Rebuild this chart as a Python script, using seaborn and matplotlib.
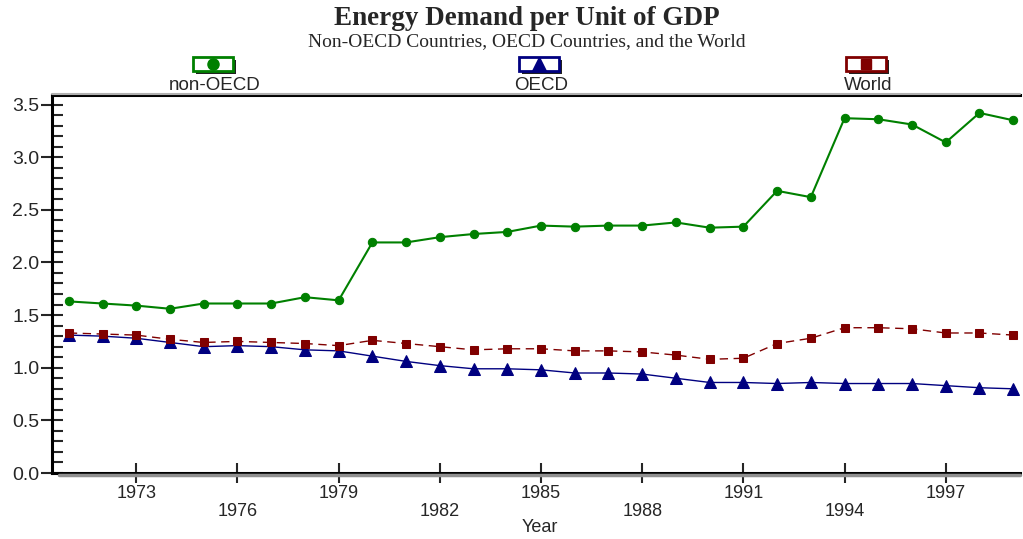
import numpy as np
import pandas as pd
import seaborn as sns
import matplotlib.pyplot as plt
from matplotlib.patches import Rectangle
from matplotlib.lines import Line2D
from matplotlib.ticker import MultipleLocator

years = list(range(1971, 2000))
non_oecd = [1.63, 1.61, 1.59, 1.56, 1.61, 1.61, 1.61, 1.67, 1.64, 2.19,
            2.19, 2.24, 2.27, 2.29, 2.35, 2.34, 2.35, 2.35, 2.38, 2.33,
            2.34, 2.68, 2.62, 3.37, 3.36, 3.31, 3.14, 3.42, 3.35]
oecd = [1.31, 1.30, 1.28, 1.24, 1.20, 1.21, 1.20, 1.17, 1.16, 1.11,
        1.06, 1.02, 0.99, 0.99, 0.98, 0.95, 0.95, 0.94, 0.90, 0.86,
        0.86, 0.85, 0.86, 0.85, 0.85, 0.85, 0.83, 0.81, 0.80]
world = [1.33, 1.32, 1.31, 1.27, 1.24, 1.25, 1.24, 1.23, 1.21, 1.26,
         1.23, 1.20, 1.17, 1.18, 1.18, 1.16, 1.16, 1.15, 1.12, 1.08,
         1.09, 1.23, 1.28, 1.38, 1.38, 1.37, 1.33, 1.33, 1.31]

major_years = [1973, 1979, 1985, 1991, 1997]
minor_years = [1976, 1982, 1988, 1994]

sns.set_style("white")
plt.rcParams['font.family'] = ['Liberation Sans', 'DejaVu Sans']

fig = plt.figure(figsize=(10.23, 5.39), dpi=100)
ax = fig.add_axes([0.0508, 0.1224, 0.9462, 0.7013])

green, navy, maroon = '#008000', '#000080', '#800000'
sns.lineplot(x=years, y=non_oecd, ax=ax, color=green, marker='o', markersize=6,
             markeredgecolor=green, linewidth=1.5)
sns.lineplot(x=years, y=oecd, ax=ax, color=navy, marker='^', markersize=8,
             markeredgecolor=navy, linewidth=1)
sns.lineplot(x=years, y=world, ax=ax, color=maroon, marker='s', markersize=6,
             markeredgecolor=maroon, linewidth=1, linestyle=(0, (6, 4)))

ax.set_xlim(1970.5, 1999.2)
ax.set_ylim(0, 3.59)

# y ticks
ax.yaxis.set_major_locator(MultipleLocator(0.5))
ax.yaxis.set_minor_locator(MultipleLocator(0.1))
ax.set_yticklabels([f"{v:.1f}" for v in ax.get_yticks()])
ax.tick_params(axis='y', which='major', direction='inout', length=16, width=1.5,
               labelsize=14, pad=1, left=True)
ax.tick_params(axis='y', which='minor', direction='in', length=8, width=1.5, left=True)

# x ticks, staggered labels
ax.set_xticks(major_years)
ax.set_xticklabels([str(y) for y in major_years])
ax.set_xticks(minor_years, minor=True)
ax.set_xticklabels([str(y) for y in minor_years], minor=True)
ax.tick_params(axis='x', which='both', direction='inout', length=15, width=1.5,
               labelsize=13, bottom=True)
ax.tick_params(axis='x', which='major', pad=1)
ax.tick_params(axis='x', which='minor', pad=14)
ax.set_xlabel('Year', fontsize=13)
ax.xaxis.set_label_coords(0.504, -0.122)
ax.set_ylabel('')

for s in ['left', 'bottom', 'top']:
    ax.spines[s].set_color('black')
    ax.spines[s].set_linewidth(2.2)
ax.spines['right'].set_visible(False)

# grey shadow lines along top and bottom frame
fig.add_artist(Line2D([0.0508, 0.997], [0.826, 0.826], color='#b0b0b0', lw=1.5))
fig.add_artist(Line2D([0.058, 0.997], [0.118, 0.118], color='#909090', lw=2.5))

# titles
fig.text(0.515, 0.966, 'Energy Demand per Unit of GDP', ha='center', va='center',
         fontsize=19.5, fontweight='bold', family=['Liberation Serif'])
fig.text(0.515, 0.922, 'Non-OECD Countries, OECD Countries, and the World',
         ha='center', va='center', fontsize=14, family=['Liberation Serif'])

# legend boxes
W, H = 1023, 539
entries = [(213, 'non-OECD', green, 'o', 8), (539, 'OECD', navy, '^', 10),
           (866, 'World', maroon, 's', 7)]
for cx, lab, col, mk, ms in entries:
    bw, bh = 40, 14
    x0, y0 = cx - bw / 2, H - 71
    fig.add_artist(Rectangle(((x0 + 3) / W, (y0 - 3) / H), bw / W, bh / H,
                             facecolor='#202020', edgecolor='none'))
    fig.add_artist(Rectangle((x0 / W, y0 / H), bw / W, bh / H,
                             facecolor='white', edgecolor=col, linewidth=2))
    fig.add_artist(Line2D([cx / W], [(y0 + bh / 2) / H], marker=mk, markersize=ms,
                          color=col, linestyle='none'))
    fig.text(cx / W + 0.002, (H - 85) / H, lab, ha='center', va='center', fontsize=13.5)

fig.savefig('out.png', dpi=100)
